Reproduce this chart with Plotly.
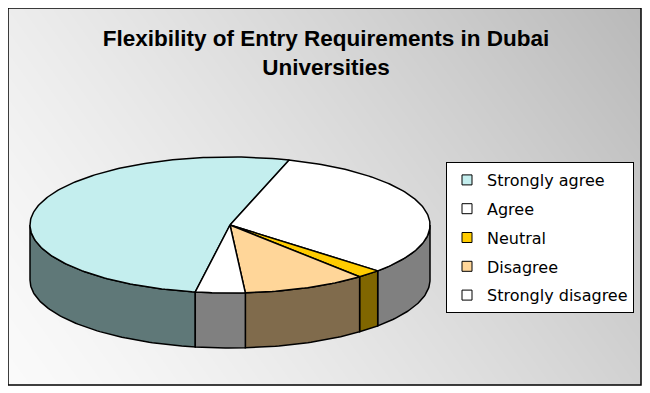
import math, zlib, struct, base64
import plotly.graph_objects as go

# ---------------- data ----------------
labels = ["Strongly agree", "Agree", "Neutral", "Disagree", "Strongly disagree"]
values = [52, 32, 2, 10, 4]
top_colors = ["#C4EEEE", "#FFFFFF", "#FFCC00", "#FFD699", "#FFFFFF"]
side_colors = ["#5F7878", "#808080", "#806600", "#806B4C", "#808080"]
title_text = "Flexibility of Entry Requirements in Dubai<br>Universities"

# ---------------- geometry (screen pixel space) ----------------
W, H = 650, 393
OFF = 8  # page body margin offset of the plot div
cx, cy, rx, ry, depth = 230, 225, 200, 68, 55
start_angle = 260.0  # degrees, slices run clockwise


def pt(a, dy=0.0):
    r = math.radians(a)
    return cx + rx * math.cos(r), cy - ry * math.sin(r) + dy


def arc(a1, a2, dy=0.0):
    n = max(2, int(abs(a1 - a2) / 1.0) + 2)
    xs, ys = [], []
    for k in range(n):
        a = a1 + (a2 - a1) * k / (n - 1)
        x, y = pt(a, dy)
        xs.append(x)
        ys.append(y)
    return xs, ys


def gradient_png(w, h):
    rows = []
    for j in range(h):
        v = (h - 1 - j) / (h - 1)
        row = [0]
        for i in range(w):
            u = i / (w - 1)
            t = 0.7 * u + 0.3 * v
            row.append(int(round(250 - 65 * t ** 1.3)))
        rows.append(bytes(row))
    raw = b"".join(rows)

    def chunk(tag, data):
        return (struct.pack(">I", len(data)) + tag + data +
                struct.pack(">I", zlib.crc32(tag + data) & 0xFFFFFFFF))

    png = (b"\x89PNG\r\n\x1a\n" +
           chunk(b"IHDR", struct.pack(">IIBBBBB", w, h, 8, 0, 0, 0, 0)) +
           chunk(b"IDAT", zlib.compress(raw, 9)) + chunk(b"IEND", b""))
    return "data:image/png;base64," + base64.b64encode(png).decode()


def px(x):
    return (x - OFF) / W


def py(y):
    return 1 - (y - OFF) / H


fig = go.Figure()
total = float(sum(values))
angles = [start_angle]
for v in values:
    angles.append(angles[-1] - 360.0 * v / total)

line = dict(color="black", width=1.5)

# side faces (visible lower half)
for i in range(len(values)):
    s, e = angles[i], angles[i + 1]
    for k in (-1, 0, 1):
        lo, hi = 180 + 360 * k, 360 + 360 * k
        a_hi, a_lo = min(s, hi), max(e, lo)
        if a_hi > a_lo:
            tx, ty = arc(a_hi, a_lo)
            bx, by = arc(a_lo, a_hi, depth)
            fig.add_trace(go.Scatter(x=tx + bx + [tx[0]], y=ty + by + [ty[0]],
                                     mode="lines", fill="toself",
                                     fillcolor=side_colors[i], line=line,
                                     showlegend=False, hoverinfo="skip"))

# top faces
for i in range(len(values)):
    s, e = angles[i], angles[i + 1]
    ax, ay = arc(s, e)
    fig.add_trace(go.Scatter(x=[cx] + ax + [cx], y=[cy] + ay + [cy],
                             mode="lines", fill="toself",
                             fillcolor=top_colors[i], line=line,
                             showlegend=False, name=labels[i],
                             hovertemplate=labels[i] + ": " + str(values[i]) + "%<extra></extra>"))

# legend entries
for i in range(len(values)):
    fig.add_trace(go.Scatter(x=[None], y=[None], mode="markers", name=labels[i],
                             legendgroup=labels[i],
                             marker=dict(symbol="square", size=10, color=top_colors[i],
                                         line=dict(color="black", width=1))))

fig.add_layout_image(dict(source=gradient_png(633, 377), xref="paper", yref="paper",
                          x=px(8), y=py(8), sizex=633 / W, sizey=377 / H,
                          xanchor="left", yanchor="top", sizing="stretch", layer="below"))

fig.add_shape(type="rect", xref="x", yref="y", x0=8, y0=8, x1=641, y1=385,
              line=dict(color="black", width=1.5), layer="above")

fig.update_layout(
    width=W, height=H,
    margin=dict(l=0, r=0, t=0, b=0),
    paper_bgcolor="white", plot_bgcolor="rgba(0,0,0,0)",
    xaxis=dict(range=[OFF, W + OFF], visible=False, fixedrange=True),
    yaxis=dict(range=[H + OFF, OFF], visible=False, fixedrange=True),
    title=dict(text=title_text, x=px(326), xanchor="center", y=1 - 38 / H,
               yanchor="top", yref="container",
               font=dict(family="Liberation Sans", size=22.5, color="black", weight="bold")),
    legend=dict(x=px(446), y=py(162), xanchor="left", yanchor="top",
                bgcolor="white", bordercolor="black", borderwidth=1,
                font=dict(family="DejaVu Sans", size=16, color="black"),
                tracegroupgap=5, itemwidth=30),
    showlegend=True,
)

fig.write_html("out.html")
